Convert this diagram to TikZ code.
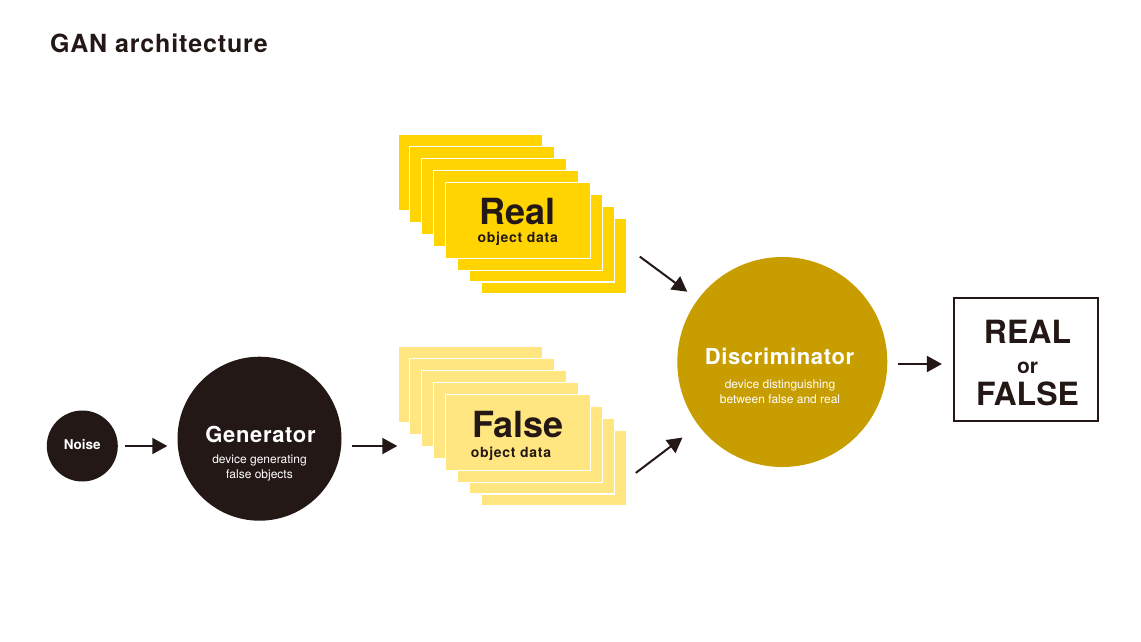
\documentclass[tikz,border=0pt]{standalone}
\usepackage{fontspec}
\setmainfont{TeX Gyre Heros}
\usetikzlibrary{arrows.meta,calc}
\definecolor{ink}{HTML}{231815}
\definecolor{gold}{HTML}{C89D00}
\definecolor{realy}{HTML}{FFD400}
\definecolor{falsey}{HTML}{FFE680}
\newcommand\myfs[1]{\fontsize{#1}{#1}\selectfont}
\tikzset{
  card/.style={draw=white, line width=1.2pt, minimum width=145pt, minimum height=76pt, inner sep=0pt, anchor=north west},
  arr/.style={draw=ink, line width=2pt, -{Triangle[length=15pt,width=16pt]}},
  lbl/.style={anchor=base, inner sep=0pt, text=ink},
  wlbl/.style={anchor=base, inner sep=0pt, text=white},
  ball/.style={circle, inner sep=0pt},
}
\begin{document}
\begin{tikzpicture}[x=1pt,y=-1pt]
\useasboundingbox[fill=white] (0,0) rectangle (1141,641);
% title
\node[anchor=base west, inner sep=0pt, text=ink, font=\bfseries\myfs{25}\addfontfeatures{LetterSpace=3.5}] (title) at (50,52.3) {GAN architecture};
% circles
\node[ball, fill=ink, minimum size=71pt] (noise) at (82.3,446) {};
\node[ball, fill=ink, minimum size=164pt] (gen) at (259.5,438.7) {};
\node[ball, fill=gold, minimum size=210pt] (disc) at (782.3,362) {};
% stacks
\foreach \i in {0,1,2,3,7,6,5,4}{
  \node[card, fill=realy] (r\i) at (397.3+11.9*\i,134+11.9*\i) {};
  \node[card, fill=falsey] (f\i) at (397.3+11.9*\i,346+11.9*\i) {};
}
% result box
\node[draw=ink, line width=2pt, minimum width=144pt, minimum height=123.6pt, inner sep=0pt] (box) at (1025.9,359.5) {};
% texts
\node[wlbl, font=\bfseries\myfs{13.5}] (tnoise) at (82.3,449) {Noise};
\node[wlbl, font=\bfseries\myfs{22}\addfontfeatures{LetterSpace=3}] (tgen) at (260.5,442.7) {Generator};
\node[wlbl, font=\myfs{12}] (tgen1) at (259.5,463.3) {device generating};
\node[wlbl, font=\myfs{12}] (tgen2) at (259.5,478.3) {false objects};
\node[wlbl, font=\bfseries\myfs{22}\addfontfeatures{LetterSpace=3}] (tdisc) at (779.5,364.3) {Discriminator};
\node[wlbl, font=\myfs{12}] (tdisc1) at (780,388.3) {device distinguishing};
\node[wlbl, font=\myfs{12}] (tdisc2) at (780,403.3) {between false and real};
\node[lbl, font=\bfseries\myfs{36}] (treal) at (517.5,224.7) {Real};
\node[lbl, font=\bfseries\myfs{14}\addfontfeatures{LetterSpace=5}] (treal1) at (517.7,242.5) {object data};
\node[lbl, font=\bfseries\myfs{36}] (tfalse) at (518,437.3) {False};
\node[lbl, font=\bfseries\myfs{14}\addfontfeatures{LetterSpace=5}] (tfalse1) at (511,457.3) {object data};
\node[lbl, font=\bfseries\myfs{32}] (tR) at (1027.5,343.3) {REAL};
\node[lbl, font=\bfseries\myfs{21}] (tor) at (1027.5,373.3) {or};
\node[lbl, font=\bfseries\myfs{32}] (tF) at (1027.5,405) {FALSE};
% connectors
\draw[arr] ([xshift=7pt]noise.east) -- ([xshift=-10pt]noise.east -| gen.west);
\draw[arr] ([xshift=10pt]noise.east -| gen.east) -- (noise.east -| f0.west);
\draw[arr, shorten >=13pt] ([shift={(13,0.7)}]r7.east) -- (disc);
\draw[arr, shorten >=20pt] ([shift={(9,5)}]f7.east) -- (disc);
\draw[arr] ([shift={(10,2)}]disc.east) -- ([shift={(-11,2)}]disc.east -| box.west);
\end{tikzpicture}
\end{document}
